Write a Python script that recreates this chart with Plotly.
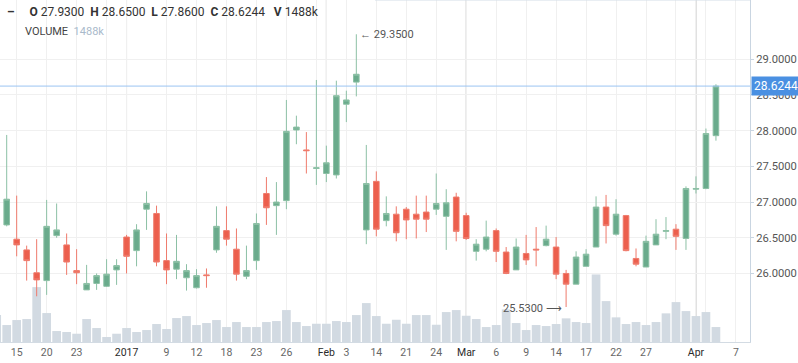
import plotly.graph_objects as go

# ---------------- data ----------------
dates = [
    "2016-12-13", "2016-12-14", "2016-12-15", "2016-12-16", "2016-12-19", "2016-12-20",
    "2016-12-21", "2016-12-22", "2016-12-23", "2016-12-27", "2016-12-28", "2016-12-29",
    "2016-12-30", "2017-01-03", "2017-01-04", "2017-01-05", "2017-01-06", "2017-01-09",
    "2017-01-10", "2017-01-11", "2017-01-12", "2017-01-13", "2017-01-17", "2017-01-18",
    "2017-01-19", "2017-01-20", "2017-01-23", "2017-01-24", "2017-01-25", "2017-01-26",
    "2017-01-27", "2017-01-30", "2017-01-31", "2017-02-01", "2017-02-02", "2017-02-03",
    "2017-02-06", "2017-02-13", "2017-02-14", "2017-02-15", "2017-02-16", "2017-02-21",
    "2017-02-22", "2017-02-23", "2017-02-24", "2017-02-27", "2017-02-28", "2017-03-01",
    "2017-03-02", "2017-03-03", "2017-03-06", "2017-03-07", "2017-03-08", "2017-03-09",
    "2017-03-10", "2017-03-13", "2017-03-14", "2017-03-15", "2017-03-16", "2017-03-17",
    "2017-03-20", "2017-03-21", "2017-03-22", "2017-03-23", "2017-03-24", "2017-03-27",
    "2017-03-28", "2017-03-29", "2017-03-30", "2017-03-31", "2017-04-03", "2017-04-04",
    "2017-04-05",
]
future_dates = ["2017-04-06", "2017-04-07"]

opens = [
    26.49, 26.68, 26.48, 26.33, 26.01, 25.90, 26.53, 26.40, 26.04, 25.77, 25.86, 25.82,
    26.05, 26.51, 26.32, 26.90, 26.84, 26.18, 26.06, 25.94, 25.80, 25.98, 26.33, 26.60,
    26.34, 25.96, 26.18, 27.12, 26.95, 27.02, 28.01, 27.73, 27.47, 27.40, 27.38, 28.37,
    28.68, 26.61, 27.29, 26.74, 26.83, 26.90, 26.83, 26.86, 26.90, 26.80, 27.07, 26.81,
    26.31, 26.34, 26.60, 26.30, 26.05, 26.28, 26.34, 26.39, 26.37, 26.00, 25.85, 26.10,
    26.37, 26.93, 26.55, 26.81, 26.21, 26.09, 26.40, 26.59, 26.62, 26.49, 27.18, 27.19,
    27.93,
]
highs = [
    27.05, 27.94, 27.09, 26.39, 26.48, 27.03, 26.98, 26.56, 26.34, 26.12, 26.00, 26.20,
    26.20, 26.54, 26.69, 27.15, 26.95, 26.56, 26.54, 26.13, 26.06, 26.07, 26.94, 26.94,
    26.63, 26.39, 26.84, 27.35, 27.28, 28.43, 28.21, 27.98, 28.71, 27.79, 28.70, 28.56,
    29.35, 27.80, 27.43, 27.08, 26.94, 26.93, 27.09, 27.09, 27.40, 27.18, 27.13, 26.85,
    26.48, 26.74, 26.63, 26.37, 26.49, 26.54, 26.65, 26.67, 26.51, 26.05, 26.31, 26.34,
    27.08, 27.10, 27.04, 26.82, 26.35, 26.53, 26.76, 26.79, 26.69, 27.22, 27.36, 28.03,
    28.65,
]
lows = [
    26.45, 26.66, 26.24, 25.90, 25.68, 25.70, 26.50, 25.98, 25.85, 25.77, 25.77, 25.81,
    25.84, 26.00, 26.10, 26.61, 26.10, 25.85, 25.92, 25.76, 25.79, 25.80, 26.29, 26.39,
    25.90, 25.92, 26.05, 26.68, 26.54, 26.90, 27.81, 27.40, 27.24, 27.28, 27.33, 28.12,
    28.48, 26.41, 26.52, 26.66, 26.45, 26.48, 26.49, 26.58, 26.82, 26.33, 26.45, 26.47,
    26.18, 26.31, 26.16, 25.99, 26.05, 26.12, 26.10, 26.38, 25.92, 25.53, 25.85, 26.10,
    26.37, 26.42, 26.53, 26.31, 26.10, 26.09, 26.40, 26.48, 26.33, 26.33, 27.12, 27.18,
    27.86,
]
closes = [
    27.01, 27.04, 26.40, 26.18, 25.91, 26.66, 26.61, 26.16, 26.01, 25.86, 25.97, 25.99,
    26.11, 26.24, 26.61, 26.98, 26.16, 26.05, 26.17, 26.04, 25.97, 25.97, 26.66, 26.48,
    25.99, 26.04, 26.70, 26.92, 27.00, 27.99, 28.05, 27.72, 27.48, 27.55, 28.49, 28.43,
    28.79, 27.26, 26.62, 26.84, 26.57, 26.75, 26.76, 26.76, 26.98, 26.99, 26.59, 26.49,
    26.41, 26.51, 26.31, 26.00, 26.37, 26.19, 26.33, 26.48, 25.99, 25.85, 26.23, 26.27,
    26.93, 26.67, 26.83, 26.32, 26.13, 26.45, 26.55, 26.60, 26.52, 27.19, 27.19, 27.96,
    28.6244,
]
volumes_k = [
    2678, 1686, 2182, 2282, 5456, 2877, 1091, 992, 823, 2282, 1389, 496,
    823, 1389, 992, 1190, 1786, 1290, 2381, 2579, 1686, 1885, 2182, 1488,
    1984, 1488, 1488, 1984, 2083, 3174, 1984, 1587, 1815, 1815, 2083, 1984,
    2678, 3869, 2579, 1815, 2212, 1815, 2678, 2678, 1716, 2976, 3174, 2609,
    2282, 1488, 1686, 3244, 1885, 1190, 1686, 1587, 1786, 2351, 1984, 1885,
    6716, 4067, 2450, 1786, 1984, 1686, 1984, 2847, 3968, 3075, 2579, 2976,
    1488,
]

tick_dates = [
    "2016-12-15", "2016-12-20", "2016-12-23", "2016-12-29", "2017-01-03", "2017-01-09",
    "2017-01-12", "2017-01-18", "2017-01-23", "2017-01-26", "2017-01-31", "2017-02-01",
    "2017-02-03", "2017-02-14", "2017-02-21", "2017-02-24", "2017-03-01", "2017-03-06",
    "2017-03-09", "2017-03-14", "2017-03-17", "2017-03-22", "2017-03-27", "2017-03-30",
    "2017-04-03", "2017-04-04", "2017-04-07",
]
tick_labels = [
    "15", "20", "23", "", "2017", "9",
    "12", "18", "23", "26", "", "Feb",
    "3", "14", "21", "24", "Mar", "6",
    "9", "14", "17", "22", "27", "",
    "Apr", "", "7",
]
period_labels = ["2017", "Feb", "Mar", "Apr"]
period_dates = ["2017-01-03", "2017-02-01", "2017-03-01", "2017-04-03"]
price_ticks = [26.0, 26.5, 27.0, 27.5, 28.0, 28.5, 29.0]

# ---------------- derived positions ----------------
all_dates = dates + future_dates
xs = [all_dates.index(d) for d in dates]
tick_pos = [all_dates.index(d) for d in tick_dates]
tick_text = [
    f"<span style='color:#2b2b2b'>{t}</span>" if t in period_labels else t
    for t in tick_labels
]
period_pos = [all_dates.index(d) for d in period_dates]

GREEN = "#6aab8c"
GREEN_LINE = "#8cc0a5"
RED = "#ec5f4d"
RED_LINE = "#ef7b6c"
VOL = "#d2dae2"
FONT = "Roboto, Arial, sans-serif"

fig = go.Figure()

fig.add_trace(go.Bar(
    x=xs, y=volumes_k, marker=dict(color=VOL, line=dict(width=0)),
    yaxis="y", hoverinfo="skip", showlegend=False,
))

fig.add_trace(go.Candlestick(
    x=xs, open=opens, high=highs, low=lows, close=closes,
    increasing=dict(fillcolor=GREEN, line=dict(color=GREEN_LINE, width=1)),
    decreasing=dict(fillcolor=RED, line=dict(color=RED_LINE, width=1)),
    whiskerwidth=0, yaxis="y2", showlegend=False, hoverinfo="skip",
))

last = len(dates) - 1
o, h, l, c, v = opens[last], highs[last], lows[last], closes[last], volumes_k[last]

shapes = []
for p in period_pos:
    shapes.append(dict(type="line", xref="x", yref="paper", x0=p, x1=p, y0=0, y1=1,
                       line=dict(color="#bdbdbd", width=1), layer="below"))
shapes.append(dict(type="line", xref="paper", yref="y2", x0=0, x1=1, y0=c, y1=c,
                   line=dict(color="#9cc4f2", width=1), layer="above"))
shapes.append(dict(type="line", xref="paper", yref="paper", x0=0.5, x1=1, y0=1, y1=1,
                   line=dict(color="#d3dde7", width=1)))

nb = "\u00a0"
line1 = (f"<b>–</b>{nb*5}<b>O</b>{nb}{o:.4f}{nb*2}<b>H</b>{nb}{h:.4f}{nb*2}"
         f"<b>L</b>{nb}{l:.4f}{nb*2}<b>C</b>{nb}{c:.4f}{nb*3}<b>V</b>{nb}{round(v)}k")
line2 = f"VOLUME{nb*2}<span style='color:#a9bacb'>{round(v)}k</span>"

imax = highs.index(max(highs))
imin = lows.index(min(lows))

annotations = [
    dict(xref="paper", yref="paper", x=0, y=1, xanchor="left", yanchor="top",
         xshift=5, yshift=-3, text=line1, showarrow=False,
         font=dict(family=FONT, size=12, color="#333333")),
    dict(xref="paper", yref="paper", x=0, y=1, xanchor="left", yanchor="top",
         xshift=23, yshift=-23, text=line2, showarrow=False,
         font=dict(family=FONT, size=11, color="#444444")),
    dict(xref="x", yref="y2", x=xs[imax], y=highs[imax], xanchor="left", yanchor="middle",
         xshift=2, text=f"← {highs[imax]:.4f}", showarrow=False,
         font=dict(family=FONT, size=11, color="#555555")),
    dict(xref="x", yref="y2", x=xs[imin], y=lows[imin], xanchor="right", yanchor="middle",
         xshift=-2, yshift=-1, text=f"{lows[imin]:.4f} ⟶", showarrow=False,
         font=dict(family=FONT, size=11, color="#555555")),
    dict(xref="paper", yref="y2", x=1, y=c, xanchor="left", yanchor="middle",
         xshift=1, text=f"{c:.4f}", showarrow=False, bgcolor="#4a90e2",
         borderpad=2, font=dict(family=FONT, size=12, color="#ffffff")),
]

fig.update_layout(
    width=798, height=363,
    margin=dict(l=0, r=48, t=0, b=21),
    paper_bgcolor="#ffffff", plot_bgcolor="#ffffff",
    bargap=0.13, boxgap=0.2,
    showlegend=False,
    font=dict(family=FONT, size=11, color="#666666"),
    xaxis=dict(
        range=[0.33, 75.41], tickmode="array", tickvals=tick_pos, ticktext=tick_text,
        showgrid=True, gridcolor="#f0f0f0", gridwidth=1, zeroline=False,
        showline=True, linecolor="#d3dbe3", ticks="", rangeslider=dict(visible=False),
        tickfont=dict(family=FONT, size=10.5, color="#666666"),
    ),
    yaxis=dict(range=[0, 34000], visible=False, showgrid=False, zeroline=False,
               fixedrange=True),
    yaxis2=dict(
        overlaying="y", side="right", anchor="x", range=[25.04, 29.83],
        tickmode="array", tickvals=price_ticks, tickformat=".4f",
        showgrid=True, gridcolor="#f0f0f0", zeroline=False,
        showline=True, linecolor="#c9d5e1", ticks="outside", ticklen=3,
        tickcolor="#c9d5e1", tickfont=dict(family=FONT, size=11.2, color="#555555"),
    ),
    shapes=shapes, annotations=annotations,
)

fig.write_html(
    "out.html",
    config={"displayModeBar": False},
    post_script="document.body.style.margin='0';document.body.style.padding='0';",
)
